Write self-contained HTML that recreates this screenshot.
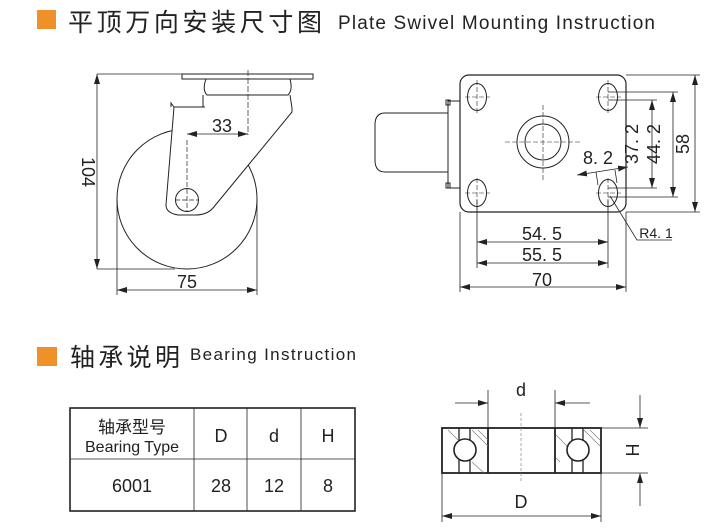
<!DOCTYPE html>
<html><head><meta charset="utf-8"><style>
html,body{margin:0;padding:0;background:#fff;}
svg{display:block;font-family:"Liberation Sans","Noto Sans CJK SC",sans-serif;}
</style></head><body>
<svg width="717" height="528" viewBox="0 0 717 528" xmlns="http://www.w3.org/2000/svg">
<defs>
<marker id="a" viewBox="0 0 10 6" refX="10" refY="3" markerWidth="10" markerHeight="6" orient="auto-start-reverse" markerUnits="userSpaceOnUse"><path d="M0,0 L10,3 L0,6 Z" fill="#222"/></marker>
</defs>
<!-- headers -->
<rect x="37" y="10" width="19" height="19" fill="#f0902a"/>
<text x="68" y="31" font-size="25" fill="#222" font-family="Noto Sans CJK SC,sans-serif" textLength="254" lengthAdjust="spacing">平顶万向安装尺寸图</text>
<text x="338" y="29" font-size="19" fill="#222" textLength="317" lengthAdjust="spacing">Plate Swivel Mounting Instruction</text>
<rect x="37" y="347" width="20" height="19" fill="#f0902a"/>
<text x="70" y="366" font-size="25" fill="#222" font-family="Noto Sans CJK SC,sans-serif" textLength="110" lengthAdjust="spacing">轴承说明</text>
<text x="190" y="360" font-size="17" fill="#222" textLength="166" lengthAdjust="spacing">Bearing Instruction</text>

<g stroke="#222" fill="none" stroke-width="1">
<!-- left view -->
<circle cx="187" cy="199" r="70"/>
<rect x="182" y="74" width="131" height="5"/>
<path d="M206,79 Q202,90 207,95 L288,95 Q293,90 290,79"/>
<path d="M174,107 L292,107 L292,112 L213,208 Q207,215 195,215 L178,215 Q166,213 166,205 Z" fill="#fff" stroke="none"/>
<path d="M203,95 L203,107 M290,95 L292,108 L292,112 L213,208 Q207,215 195,215 L178,215 Q166,213 166,205 L174,107 L205,107"/>
<path d="M174,107 L171,103 L171,107"/>
<circle cx="187" cy="200" r="11.5"/>
<path d="M187,140 L187,212 M175,200 L199,200" stroke-dasharray="5,2" stroke-width="0.7"/>
<path d="M248,70 L248,135" stroke-dasharray="6,2" stroke-width="0.7"/>
<line x1="187" y1="134" x2="248" y2="134" stroke-width="0.8" marker-start="url(#a)" marker-end="url(#a)"/>
<line x1="97" y1="74" x2="182" y2="74" stroke-width="0.8"/>
<line x1="97" y1="269" x2="175" y2="269" stroke-width="0.8"/>
<line x1="97" y1="74" x2="97" y2="269" stroke-width="0.8" marker-start="url(#a)" marker-end="url(#a)"/>
<line x1="117" y1="200" x2="117" y2="295" stroke-width="0.8"/>
<line x1="257" y1="200" x2="257" y2="295" stroke-width="0.8"/>
<line x1="117" y1="290" x2="257" y2="290" stroke-width="0.8" marker-start="url(#a)" marker-end="url(#a)"/>

<!-- right view -->
<rect x="460" y="75" width="166" height="137" rx="9" stroke-width="1.2"/>
<path d="M448,113 L385,113 Q375,113 375,125 L375,160 Q375,172 385,172 L448,172" />
<rect x="448" y="101" width="12" height="87"/>
<rect x="446" y="100" width="4" height="5"/><rect x="446" y="183" width="4" height="5"/>
<ellipse cx="477" cy="97" rx="9.5" ry="13.5"/><ellipse cx="608" cy="97" rx="9.5" ry="13.5"/>
<ellipse cx="477" cy="193" rx="9.5" ry="13.5"/><ellipse cx="608" cy="193" rx="9.5" ry="13.5"/>
<circle cx="543" cy="142" r="26"/><circle cx="543" cy="142" r="18"/>
<g stroke-dasharray="5,2" stroke-width="0.6">
<path d="M543,105 L543,180 M505,142 L580,142 M477,80 L477,115 M465,97 L490,97 M608,80 L608,115 M596,97 L621,97 M477,178 L477,210 M465,193 L490,193 M608,178 L608,210 M596,193 L621,193"/>
</g>
<g stroke-width="0.8">
<line x1="626" y1="75" x2="700" y2="75"/><line x1="626" y1="212" x2="700" y2="212"/>
<line x1="608" y1="92" x2="678" y2="92"/><line x1="608" y1="197" x2="678" y2="197"/>
<line x1="608" y1="100" x2="657" y2="100"/><line x1="608" y1="188" x2="657" y2="188"/>
<line x1="695" y1="75" x2="695" y2="212" marker-start="url(#a)" marker-end="url(#a)"/>
<line x1="673" y1="92" x2="673" y2="197" marker-start="url(#a)" marker-end="url(#a)"/>
<line x1="652" y1="100" x2="652" y2="188" marker-start="url(#a)" marker-end="url(#a)"/>
<line x1="477" y1="200" x2="477" y2="268"/><line x1="608" y1="200" x2="608" y2="268"/>
<line x1="460" y1="212" x2="460" y2="292"/><line x1="626" y1="212" x2="626" y2="292"/>
<line x1="477" y1="242" x2="608" y2="242" marker-start="url(#a)" marker-end="url(#a)"/>
<line x1="477" y1="263" x2="608" y2="263" marker-start="url(#a)" marker-end="url(#a)"/>
<line x1="460" y1="287" x2="626" y2="287" marker-start="url(#a)" marker-end="url(#a)"/>
<line x1="577" y1="175" x2="628" y2="167" marker-start="url(#a)" marker-end="url(#a)"/>
<line x1="596" y1="172" x2="598" y2="185"/><line x1="615" y1="170" x2="617" y2="183"/>
<path d="M610,196 L637,240 L672,240"/>
</g>

<!-- table -->
<rect x="70" y="408" width="285" height="103" stroke-width="1.6"/>
<path d="M70,459 L355,459 M194,408 L194,511 M247,408 L247,511 M301,408 L301,511" stroke-width="0.8"/>

<!-- bearing -->
<rect x="442" y="428" width="159" height="45" stroke-width="1.8"/>
<path d="M488,428 L488,473 M555,428 L555,473" stroke-width="1.8"/>
<path d="M459,428 L459,473 M470,428 L470,473 M572,428 L572,473 M583,428 L583,473" stroke-width="1.3"/>
<circle cx="465" cy="450" r="11" fill="#fff" stroke-width="1.6"/>
<circle cx="578" cy="450" r="11" fill="#fff" stroke-width="1.6"/>
<path d="M448,430 L458,440 M472,430 L488,446 M478,430 L488,440 M472,462 L484,473 M556,458 L560,462 M584,430 L600,446 M590,430 L600,440 M556,435 L567,446" stroke-width="0.6" stroke="#777"/>
<line x1="521" y1="413" x2="521" y2="482" stroke-dasharray="3,2" stroke-width="0.7" stroke="#888"/>
<g stroke-width="0.8">
<line x1="488" y1="390" x2="488" y2="428"/><line x1="555" y1="390" x2="555" y2="428"/>
<line x1="455" y1="403" x2="488" y2="403" marker-end="url(#a)"/>
<line x1="590" y1="403" x2="555" y2="403" marker-end="url(#a)"/>
<line x1="442" y1="473" x2="442" y2="522"/><line x1="601" y1="473" x2="601" y2="522"/>
<line x1="442" y1="516" x2="601" y2="516" marker-start="url(#a)" marker-end="url(#a)"/>
<line x1="601" y1="428" x2="648" y2="428"/><line x1="601" y1="473" x2="648" y2="473"/>
<line x1="640" y1="395" x2="640" y2="428" marker-end="url(#a)"/>
<line x1="640" y1="506" x2="640" y2="473" marker-end="url(#a)"/>
</g>
</g>

<g fill="#222" font-size="18" text-anchor="middle">
<text x="222" y="132">33</text>
<text x="187" y="288">75</text>
<text transform="translate(82,172) rotate(90)">104</text>
<text x="542" y="240">54. 5</text>
<text x="542" y="261">55. 5</text>
<text x="542" y="286">70</text>
<text x="598" y="164">8. 2</text>
<text transform="translate(638,144) rotate(-90)">37. 2</text>
<text transform="translate(660,144) rotate(-90)">44. 2</text>
<text transform="translate(689,144) rotate(-90)">58</text>
<text x="656" y="238" font-size="14">R4. 1</text>
<text x="521" y="396">d</text>
<text x="521" y="508">D</text>
<text transform="translate(626,450) rotate(90)">H</text>
<text x="132" y="433" font-family="Noto Sans CJK SC,sans-serif" font-size="17">轴承型号</text>
<text x="132" y="452" font-size="16">Bearing Type</text>
<text x="221" y="442">D</text>
<text x="274" y="442">d</text>
<text x="328" y="442">H</text>
<text x="132" y="492">6001</text>
<text x="221" y="492">28</text>
<text x="274" y="492">12</text>
<text x="328" y="492">8</text>
</g>
</svg>
</body></html>
